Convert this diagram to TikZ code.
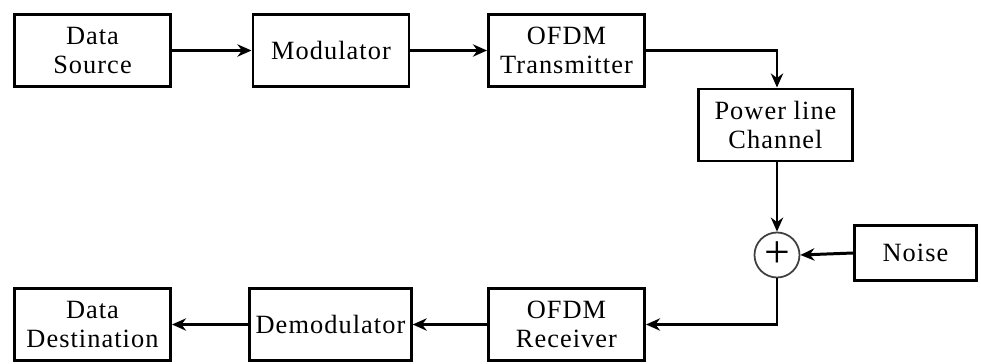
\documentclass[tikz,border=0pt]{standalone}
\usepackage{fontspec}
\setmainfont{Liberation Serif}
\usetikzlibrary{arrows.meta}
\begin{document}
\begin{tikzpicture}[
    block/.style={draw, line width=1.7pt, minimum width=3.12cm, minimum height=1.44cm,
      align=center, font=\fontsize{15}{16.5}\selectfont\addfontfeature{LetterSpace=4}},
    adder/.style={draw=black!75, line width=1pt, circle, minimum size=0.9cm, inner sep=0pt},
    link/.style={line width=1.7pt, -{Stealth[length=8pt,width=7pt]}}
  ]
  \useasboundingbox (0,0) rectangle (19.62,7.26);
  \draw
    (1.85,6.25) node[block] (src){Data\\Source}
    (6.62,6.25) node[block] (mod){Modulator}
    (11.33,6.25) node[block] (tx){OFDM\\Transmitter}
    (15.51,4.76) node[block, minimum width=3.08cm] (plc){Power line\\Channel}
    (15.54,2.16) node[adder] (sum){}
    (18.31,2.20) node[block, minimum width=2.44cm, minimum height=1.1cm] (noise){Noise}
    (11.33,0.77) node[block] (rx){OFDM\\Receiver}
    (6.61,0.77) node[block] (demod){Demodulator}
    (1.85,0.77) node[block] (dst){Data\\Destination};
  \node[font=\fontsize{26}{26}\selectfont, inner sep=0pt] (plus) at (sum) {+};
  \begin{scope}[link]
    \draw (src) to (mod);
    \draw (mod) to (tx);
    \draw (tx.east) -| (sum.north |- plc.north);
    \draw (sum.north |- plc.south) to (sum.north);
    \draw (noise.west) to (sum.east);
    \draw (sum.south) |- (rx.east);
    \draw (rx) to (demod);
    \draw (demod) to (dst);
  \end{scope}
\end{tikzpicture}
\end{document}
